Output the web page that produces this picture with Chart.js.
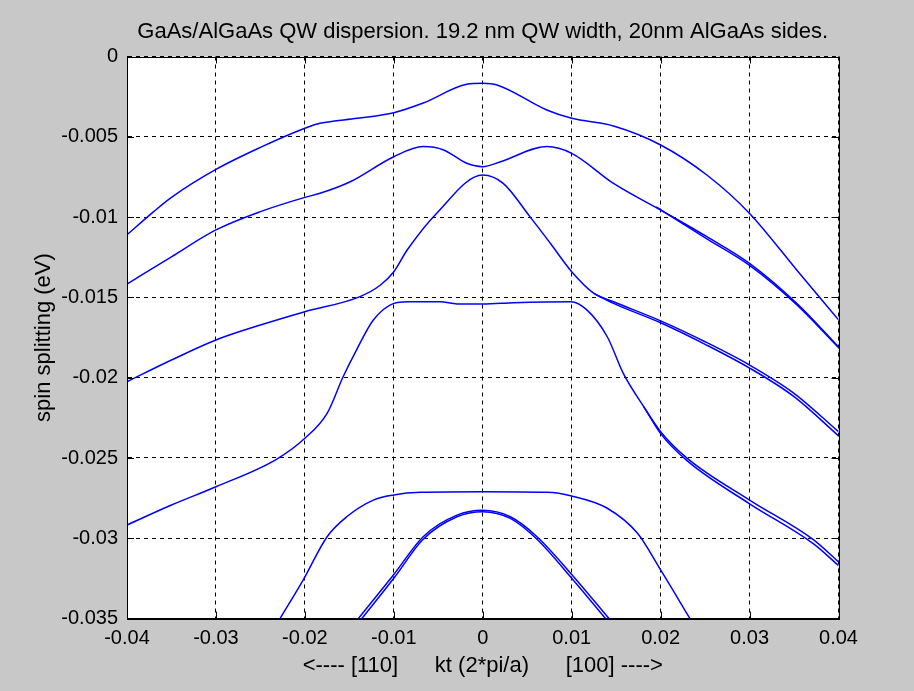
<!DOCTYPE html>
<html>
<head>
<meta charset="utf-8">
<title>GaAs/AlGaAs QW dispersion</title>
<script src="https://cdn.jsdelivr.net/npm/chart.js@4.4.1/dist/chart.umd.min.js"></script>
<style>
  html, body { margin: 0; padding: 0; background: #c8c8c8; }
  canvas { display: block; }
</style>
</head>
<body>
<canvas id="dispersionChart" width="914" height="691"></canvas>
<script>
// Values (kt in 2*pi/a, energies in eV)
const xTicks = [-0.04, -0.03, -0.02, -0.01, 0, 0.01, 0.02, 0.03, 0.04];
const xTickLabels = ['-0.04', '-0.03', '-0.02', '-0.01', '0', '0.01', '0.02', '0.03', '0.04'];
const yTicks = [0, -0.005, -0.01, -0.015, -0.02, -0.025, -0.03, -0.035];
const yTickLabels = ['0', '-0.005', '-0.01', '-0.015', '-0.02', '-0.025', '-0.03', '-0.035'];

// band 1 (top)
const kt1 = [-0.04, -0.037, -0.035, -0.03, -0.025, -0.02, -0.0183, -0.0141, -0.01, -0.0067, -0.0018, 0, 0.0016, 0.0072, 0.01, 0.0147, 0.02, 0.0252, 0.03, 0.0353, 0.04];
const e1 = [-0.0111, -0.00966, -0.00877, -0.00703, -0.00566, -0.00447, -0.00416, -0.00385, -0.0035, -0.0029, -0.00173, -0.00167, -0.00177, -0.00333, -0.00385, -0.00433, -0.00551, -0.00738, -0.00977, -0.01329, -0.0164];

// band 2 (dip at zone centre)
const kt2 = [-0.04, -0.035, -0.03, -0.025, -0.02, -0.0183, -0.0149, -0.01, -0.0067, -0.0044, -0.0018, 0, 0.002, 0.0072, 0.01, 0.0147, 0.02, 0.0252, 0.03, 0.0353, 0.04];
const e2 = [-0.01417, -0.01247, -0.0108, -0.00966, -0.00877, -0.00852, -0.0078, -0.00624, -0.00561, -0.00582, -0.00665, -0.00686, -0.00655, -0.00561, -0.00603, -0.0079, -0.00956, -0.01122, -0.01288, -0.01537, -0.01807];
const kt2b = [0.0195, 0.0252, 0.03, 0.0353, 0.04];
const e2b = [-0.00937, -0.01135, -0.01300, -0.01545, -0.01812];

// band 3 (sharp peak)
const kt3 = [-0.04, -0.035, -0.03, -0.025, -0.02, -0.0138, -0.0115, -0.01, -0.0085, -0.0052, 0, 0.0023, 0.0053, 0.0076, 0.01, 0.0125, 0.0147, 0.02, 0.025, 0.03, 0.035, 0.04];
const e3 = [-0.02025, -0.0189, -0.01765, -0.01672, -0.01589, -0.01495, -0.01423, -0.0134, -0.01205, -0.00977, -0.00738, -0.0079, -0.00997, -0.01163, -0.0134, -0.01475, -0.01527, -0.01646, -0.01776, -0.01921, -0.02097, -0.02336];
const kt3b = [0.0125, 0.0147, 0.02, 0.025, 0.03, 0.035, 0.04];
const e3b = [-0.01475, -0.01537, -0.01658, -0.01792, -0.01940, -0.02118, -0.02362];

// band 4 (flat top)
const kt4 = [-0.04, -0.035, -0.03, -0.0232, -0.02, -0.0175, -0.0157, -0.0142, -0.0123, -0.01, -0.0085, -0.0048, -0.0029, 0, 0.0035, 0.0099, 0.0117, 0.014, 0.0158, 0.0181, 0.02, 0.023, 0.03, 0.0372, 0.04];
const e4 = [-0.02917, -0.02793, -0.02679, -0.02508, -0.02377, -0.02222, -0.01994, -0.01828, -0.01641, -0.01537, -0.01527, -0.01527, -0.01541, -0.01541, -0.01533, -0.01527, -0.01578, -0.01745, -0.01973, -0.0218, -0.02336, -0.02502, -0.02762, -0.0301, -0.03146];
const kt4b = [0.0181, 0.02, 0.023, 0.03, 0.0372, 0.04];
const e4b = [-0.0218, -0.02348, -0.02518, -0.02785, -0.03035, -0.03170];

// band 5
const kt5 = [-0.0228, -0.0202, -0.0175, -0.0153, -0.0123, -0.01, -0.007, 0, 0.0072, 0.01, 0.014, 0.0174, 0.02, 0.0233];
const e5 = [-0.035, -0.0326, -0.0299, -0.02866, -0.02762, -0.0273, -0.02714, -0.0271, -0.02714, -0.02737, -0.02813, -0.02969, -0.03197, -0.035];

// band 6 (spin split pair)
const kt6 = [-0.0136, -0.01, -0.0067, -0.0029, 0, 0.0031, 0.0061, 0.01, 0.0138];
const e6 = [-0.035, -0.03249, -0.03006, -0.02866, -0.02834, -0.02876, -0.03006, -0.03249, -0.035];
const kt6b = [-0.0140, -0.01, -0.0067, -0.0029, 0, 0.0031, 0.0061, 0.01, 0.0142];
const e6b = [-0.035, -0.03225, -0.02990, -0.02856, -0.02826, -0.02866, -0.02990, -0.03225, -0.035];

const bands = [
    [kt1, e1], [kt2, e2], [kt2b, e2b], [kt3, e3], [kt3b, e3b],
    [kt4, e4], [kt4b, e4b], [kt5, e5], [kt6, e6], [kt6b, e6b]
];

const FONT = "'Liberation Sans', Arial, Helvetica, sans-serif";

// White axes box, solid frame and inward tick marks like MATLAB
const axesBox = {
    id: 'axesBox',
    beforeDraw(chart) {
        const a = chart.chartArea;
        const ctx = chart.ctx;
        ctx.save();
        ctx.fillStyle = '#ffffff';
        ctx.fillRect(a.left, a.top, a.right - a.left, a.bottom - a.top);
        ctx.restore();
    },
    afterDraw(chart) {
        const a = chart.chartArea;
        const ctx = chart.ctx;
        const xs = chart.scales.x, ys = chart.scales.y;
        ctx.save();
        ctx.strokeStyle = '#000000';
        ctx.lineWidth = 1;
        ctx.beginPath();
        xTicks.forEach(v => {
            const px = Math.round(xs.getPixelForValue(v)) + 0.5;
            ctx.moveTo(px, a.bottom); ctx.lineTo(px, a.bottom - 7);
            ctx.moveTo(px, a.top); ctx.lineTo(px, a.top + 7);
        });
        yTicks.forEach(v => {
            const py = Math.round(ys.getPixelForValue(v)) + 0.5;
            ctx.moveTo(a.left, py); ctx.lineTo(a.left + 7, py);
            ctx.moveTo(a.right, py); ctx.lineTo(a.right - 7, py);
        });
        ctx.stroke();
        ctx.strokeRect(Math.round(a.left) + 0.5, Math.round(a.top) + 0.5,
            Math.round(a.right - a.left), Math.round(a.bottom - a.top));
        ctx.restore();
    }
};

new Chart(document.getElementById('dispersionChart'), {
    type: 'scatter',
    data: {
        datasets: bands.map(b => ({
            data: b[0].map((k, i) => ({ x: k, y: b[1][i] })),
            showLine: true,
            borderColor: '#0000ff',
            borderWidth: 1.5,
            pointRadius: 0,
            cubicInterpolationMode: 'monotone',
            fill: false
        }))
    },
    options: {
        responsive: false,
        devicePixelRatio: 1,
        animation: false,
        layout: { padding: { left: 0, right: 75.5, top: 0, bottom: 0 } },
        plugins: {
            legend: { display: false },
            tooltip: { enabled: false },
            title: {
                display: true,
                fullSize: false,
                text: 'GaAs/AlGaAs QW dispersion. 19.2 nm QW width, 20nm AlGaAs sides.',
                color: '#000000',
                font: { family: FONT, size: 22, weight: 'normal' },
                padding: { top: 19, bottom: 11.1 }
            }
        },
        scales: {
            x: {
                type: 'linear',
                min: -0.04,
                max: 0.04,
                afterBuildTicks: s => { s.ticks = xTicks.map(v => ({ value: v })); },
                afterFit: s => { s.height = 72.4; },
                ticks: {
                    autoSkip: false,
                    maxRotation: 0,
                    padding: 8,
                    color: '#000000',
                    font: { family: FONT, size: 20 },
                    callback: (v, i) => xTickLabels[i]
                },
                grid: { color: '#000000', lineWidth: 1, drawTicks: false },
                border: { display: true, color: '#000000', dash: [4, 4] },
                title: {
                    display: true,
                    text: '<---- [110]      kt (2*pi/a)      [100] ---->',
                    color: '#000000',
                    font: { family: FONT, size: 22 },
                    padding: { top: 4, bottom: 12 }
                }
            },
            y: {
                type: 'linear',
                min: -0.035,
                max: 0,
                afterBuildTicks: s => { s.ticks = yTicks.map(v => ({ value: v })); },
                afterFit: s => { s.width = 127; },
                ticks: {
                    autoSkip: false,
                    padding: 9,
                    color: '#000000',
                    font: { family: FONT, size: 20 },
                    callback: (v, i) => yTickLabels[i]
                },
                grid: { color: '#000000', lineWidth: 1, drawTicks: false },
                border: { display: true, color: '#000000', dash: [4, 4] },
                title: {
                    display: true,
                    text: 'spin splitting (eV)',
                    color: '#000000',
                    font: { family: FONT, size: 22 },
                    padding: { top: 31, bottom: 0 }
                }
            }
        }
    },
    plugins: [axesBox]
});
</script>
</body>
</html>
